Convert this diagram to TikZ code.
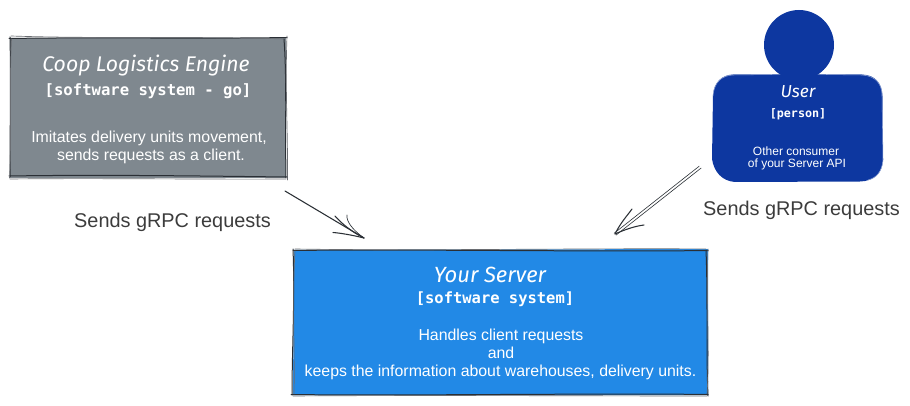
\documentclass[tikz,border=0pt]{standalone}
\usepackage{fontspec}
\setmainfont{Liberation Sans}
\newfontfamily\handfont{Fira Sans}
\newfontfamily\codefont{DejaVu Sans Mono}
\usetikzlibrary{arrows.meta}
\definecolor{coopgray}{HTML}{7F888F}
\definecolor{servblue}{HTML}{2289E6}
\definecolor{userblue}{HTML}{0D37A0}
\definecolor{inkdark}{HTML}{2A2F35}
\definecolor{labelgray}{HTML}{3C3C3C}
\tikzset{
  x=0.75pt,y=-0.75pt,
  txt/.style={inner sep=0pt,text=white,align=center,anchor=center},
  titlea/.style={txt,font=\handfont\itshape\fontsize{#1}{#1}\selectfont},
  coda/.style={txt,font=\codefont\bfseries\fontsize{#1}{#1}\selectfont},
  bodya/.style={txt,font=\fontsize{#1}{#1}\selectfont},
  sketch/.style={draw=inkdark,line width=0.75pt,line cap=round},
  sketchb/.style={draw=inkdark!70,line width=0.5pt,line cap=round},
  conn/.style={draw=inkdark,line width=0.8pt,line cap=round},
  lab/.style={inner sep=0pt,text=labelgray,anchor=center,font=\fontsize{14.9pt}{16pt}\selectfont},
}
\begin{document}
\begin{tikzpicture}
\useasboundingbox (0,0) rectangle (910,406);
% Coop box
\fill[coopgray] (10,38) -- (286,38) -- (286,178) -- (10,178) -- cycle;
\path[sketch] (9,38.5) .. controls (100,37) and (200,39) .. (287,37.5);
\path[sketchb] (11,36) .. controls (100,39) and (200,36) .. (284,39);
\path[sketch] (284,39) .. controls (287,80) and (285,130) .. (286,178);
\path[sketchb] (287,36) .. controls (285,90) and (288,130) .. (287.5,180);
\path[sketch] (9,176) .. controls (100,174.5) and (200,176) .. (287,177);
\path[sketchb] (10,179) .. controls (100,178) and (200,179.5) .. (286,179);
\path[sketch] (10,37) .. controls (11,80) and (10,130) .. (10,177);
\path[sketchb] (11.5,39) .. controls (9,90) and (12,130) .. (9.5,178);
\node[titlea=15.9pt] (cooptitle) at (146,66) {Coop Logistics Engine};
\node[coda=11.7pt] (coopkind) at (148,91) {[software system - go]};
\node[bodya=11.9pt] (coopa) at (149,138.5) {Imitates delivery units movement,};
\node[bodya=11.9pt] (coopb) at (151,156.5) {sends requests as a client.};
% Server box
\fill[servblue] (294,250) -- (708,249) -- (708,395) -- (293,395) -- cycle;
\path[sketch] (293,250.5) .. controls (400,249) and (600,252) .. (708,250.5);
\path[sketchb] (295,249) .. controls (420,251) and (600,248) .. (706,249);
\path[sketch] (706,250) .. controls (708,300) and (706,350) .. (708,396);
\path[sketchb] (708,249) .. controls (706,300) and (710,350) .. (707,394);
\path[sketch] (291,394.5) .. controls (400,396) and (600,393) .. (708,394.5);
\path[sketchb] (293,396) .. controls (420,395) and (600,396) .. (707,396);
\path[sketch] (293,249) .. controls (295,300) and (292,350) .. (292,395);
\path[sketchb] (295,251) .. controls (292,300) and (295,350) .. (294,394);
\node[titlea=16.5pt] (servtitle) at (490,275) {Your Server};
\node[coda=11.6pt] (servkind) at (495,299) {[software system]};
\node[bodya=11.9pt] (serva) at (501,336.5) {Handles client requests};
\node[bodya=11.9pt] (servb) at (501,353) {and};
\node[bodya=11.9pt] (servc) at (500.5,372.5) {keeps the information about warehouses, delivery units.};
% User
\fill[userblue] (799,45) circle [radius=35];
\fill[userblue] (733,74.5) -- (862,74.5) .. controls (876,75) and (882,84) .. (882.5,96)
  -- (883,160) .. controls (882,174) and (874,181) .. (860,181.5)
  -- (735,182) .. controls (722,181) and (714,172) .. (712,159)
  -- (713,95) .. controls (714,82) and (722,75) .. (733,74.5) -- cycle;
\path[draw=white!55!userblue,line width=0.4pt] (713,96) .. controls (714,82) and (722,75.5) .. (733,75) -- (772,74.5);
\path[draw=white!55!userblue,line width=0.4pt] (826,74.5) -- (862,75) .. controls (876,76) and (882,84) .. (882,96) -- (883,160) .. controls (882,172) and (876,178) .. (868,180);
\node[titlea=13pt] (usertitle) at (798,92) {User};
\node[coda=8.8pt] (userkind) at (798,114.5) {[person]};
\node[bodya=9pt] (usera) at (796,151) {Other consumer};
\node[bodya=9pt] (userb) at (797,164) {of your Server API};
% Labels
\node[lab] (laba) at (172.5,222) {Sends gRPC requests};
\node[lab] (labb) at (801.5,210) {Sends gRPC requests};
% Connectors
\coordinate (afrom) at (285,191);
\coordinate (ato) at (364,238);
\coordinate (bfrom) at (700,167);
\coordinate (bto) at (615,234);
\draw[conn] (afrom) -- (ato);
\draw[conn] (ato) .. controls (352,232) and (342,224) .. (335,216);
\draw[conn,line width=0.5pt] (ato) .. controls (354,231) and (346,222) .. (347,215);
\draw[conn] (ato) .. controls (352,235) and (340,233) .. (333,232.5);
\draw[conn,line width=0.45pt] ([xshift=0.8pt,yshift=-0.8pt]bfrom) -- ([xshift=0.8pt,yshift=-0.8pt]bto);
\draw[conn,line width=0.45pt] ([xshift=-0.6pt,yshift=0.6pt]bfrom) -- ([xshift=-0.6pt,yshift=0.6pt]bto);
\draw[conn] (bto) .. controls (621,222) and (627,216) .. (632,209);
\draw[conn] (bto) .. controls (626,229) and (636,226) .. (644,225);
\end{tikzpicture}
\end{document}
